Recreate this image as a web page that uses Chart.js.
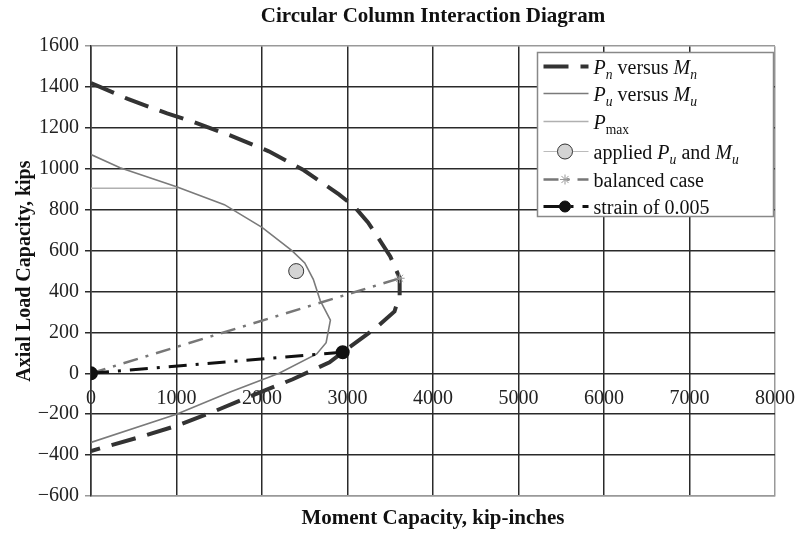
<!DOCTYPE html>
<html>
<head>
<meta charset="utf-8">
<title>Circular Column Interaction Diagram</title>
<script src="https://cdn.jsdelivr.net/npm/chart.js@4.4.1/dist/chart.umd.min.js"></script>
<style>
  html, body { margin: 0; padding: 0; background: #fff; }
</style>
</head>
<body>
<canvas id="chart" width="795" height="537"></canvas>
<script>
// nominal strength curve (kip-in, kips)
const nominalMoment = [0, 430, 890, 1180, 1620, 2080, 2490, 2900, 3080, 3240, 3340, 3500, 3575, 3610, 3610, 3550, 3340, 2944, 2790, 2360, 1890, 1470, 1020, 560, 0];
const nominalLoad = [1420, 1342, 1271, 1232, 1165, 1086, 993, 875, 815, 738, 675, 572, 500, 465, 381, 303, 225, 103, 54, -29, -108, -181, -254, -313, -380];

// factored (design) strength curve
const factoredMoment = [0, 340, 1000, 1560, 2000, 2350, 2500, 2600, 2680, 2800, 2750, 2640, 2200, 1620, 1000, 0];
const factoredLoad = [1070, 1005, 912, 825, 714, 600, 540, 460, 357, 260, 150, 95, 0, -93, -200, -338];

// Pmax cap
const pmaxMoment = [0, 1000];
const pmaxLoad = [905, 905];

// applied load
const appliedMoment = [2400];
const appliedLoad = [500];

// balanced point
const balancedMoment = [0, 3610];
const balancedLoad = [0, 465];

// tension controlled limit
const strainMoment = [0, 2944];
const strainLoad = [0, 103];

const momentTicks = { min: 0, max: 8000, step: 1000 };
const loadTicks = { min: -600, max: 1600, step: 200 };

const serif = '"Liberation Serif", "Times New Roman", serif';

function pts(xs, ys) {
  return xs.map((x, i) => ({ x: x, y: ys[i] }));
}

function minus(v) {
  return v < 0 ? '\u2212' + Math.abs(v) : String(v);
}

// legend labels with italic symbols and subscripts
const legendText = [
  [{ t: 'P', it: 1 }, { t: 'n', it: 1, sub: 1 }, { t: ' versus ' }, { t: 'M', it: 1 }, { t: 'n', it: 1, sub: 1 }],
  [{ t: 'P', it: 1 }, { t: 'u', it: 1, sub: 1 }, { t: ' versus ' }, { t: 'M', it: 1 }, { t: 'u', it: 1, sub: 1 }],
  [{ t: 'P', it: 1 }, { t: 'max', sub: 1 }],
  [{ t: 'applied ' }, { t: 'P', it: 1 }, { t: 'u', it: 1, sub: 1 }, { t: ' and ' }, { t: 'M', it: 1 }, { t: 'u', it: 1, sub: 1 }],
  [{ t: 'balanced case' }],
  [{ t: 'strain of 0.005' }]
];
const legendRows = [14, 41, 69, 99, 127, 154];

const datasets = [
  {
    label: 'Pn versus Mn', data: pts(nominalMoment, nominalLoad),
    borderColor: '#333', borderWidth: 4, borderDash: [25, 12], pointRadius: 0, order: 6
  },
  {
    label: 'Pu versus Mu', data: pts(factoredMoment, factoredLoad),
    borderColor: '#7a7a7a', borderWidth: 1.6, pointRadius: 0, order: 5
  },
  {
    label: 'Pmax', data: pts(pmaxMoment, pmaxLoad),
    borderColor: '#b0b0b0', borderWidth: 1.6, pointRadius: 0, order: 4
  },
  {
    label: 'applied Pu and Mu', data: pts(appliedMoment, appliedLoad),
    borderColor: '#bbb', borderWidth: 1, pointStyle: 'circle', pointRadius: 7.5,
    pointBackgroundColor: '#d4d4d4', pointBorderColor: '#333', pointBorderWidth: 1, order: 1
  },
  {
    label: 'balanced case', data: pts(balancedMoment, balancedLoad),
    borderColor: '#777', borderWidth: 2.5, borderDash: [15, 8, 3, 8],
    pointStyle: 'star', pointRadius: 5, pointBorderColor: '#999', pointBackgroundColor: '#999', pointBorderWidth: 1, order: 3
  },
  {
    label: 'strain of 0.005', data: pts(strainMoment, strainLoad),
    borderColor: '#111', borderWidth: 3, borderDash: [18, 9, 3, 9],
    pointStyle: 'circle', pointRadius: 5.5, pointBackgroundColor: '#111', pointBorderColor: '#111', order: 2
  }
];

function drawRich(ctx, parts, x, y, size) {
  parts.forEach(p => {
    const s = p.sub ? size * 0.68 : size;
    ctx.font = (p.it ? 'italic ' : '') + s + 'px ' + serif;
    ctx.fillText(p.t, x, y + (p.sub ? size * 0.27 : 0));
    x += ctx.measureText(p.t).width;
  });
}

const legendBox = {
  id: 'legendBox',
  afterDraw(chart) {
    const ctx = chart.ctx;
    const area = chart.chartArea;
    const left = Math.round(area.right - 238) + 0.5;
    const top = Math.round(area.top + 6) + 0.5;
    const w = 236, h = 164;
    ctx.save();
    ctx.fillStyle = '#fff';
    ctx.fillRect(left, top, w, h);
    ctx.strokeStyle = '#888';
    ctx.lineWidth = 1.5;
    ctx.strokeRect(left, top, w, h);

    chart.data.datasets.forEach((ds, i) => {
      const y = top + legendRows[i];
      const x0 = left + 6, x1 = left + 51;
      ctx.save();
      ctx.strokeStyle = ds.borderColor;
      ctx.lineWidth = ds.borderWidth;
      ctx.setLineDash(ds.borderDash || []);
      ctx.beginPath();
      ctx.moveTo(x0, y);
      ctx.lineTo(x1, y);
      ctx.stroke();
      ctx.restore();
      if (ds.pointRadius > 0) {
        ctx.fillStyle = ds.pointBackgroundColor;
        ctx.strokeStyle = ds.pointBorderColor;
        ctx.lineWidth = ds.pointBorderWidth || 1;
        Chart.helpers.drawPoint(ctx, {
          pointStyle: ds.pointStyle, radius: ds.pointRadius, rotation: 0, borderWidth: ctx.lineWidth
        }, (x0 + x1) / 2 - 1, y);
      }
      ctx.fillStyle = '#111';
      ctx.textBaseline = 'alphabetic';
      drawRich(ctx, legendText[i], x1 + 5, y + 7, 20);
    });
    ctx.restore();
  }
};

function edgeColor(ctx, lo, hi) {
  const v = ctx.tick ? ctx.tick.value : null;
  return (v === lo || v === hi) ? '#999' : '#2a2a2a';
}

function noSidePadding(s) {
  s.paddingLeft = 0;
  s.paddingRight = 0;
}

new Chart(document.getElementById('chart'), {
  type: 'scatter',
  data: { datasets: datasets.map(d => Object.assign({ showLine: true, fill: false, tension: 0 }, d)) },
  options: {
    responsive: false,
    animation: false,
    layout: { padding: { left: 0, right: 20, top: 0, bottom: 0 } },
    plugins: {
      legend: { display: false },
      tooltip: { enabled: false },
      title: {
        display: true,
        fullSize: false,
        text: 'Circular Column Interaction Diagram',
        color: '#111',
        font: { family: serif, size: 21, weight: 'bold', lineHeight: 1.2 },
        padding: { top: 4, bottom: 17 }
      }
    },
    scales: {
      x: {
        type: 'linear',
        position: 'bottom',
        min: momentTicks.min, max: momentTicks.max,
        ticks: { display: false, stepSize: momentTicks.step },
        grid: { color: c => edgeColor(c, -1, momentTicks.max), lineWidth: 1.5, drawTicks: false },
        border: { color: '#999', width: 1.5 },
        title: {
          display: true, text: 'Moment Capacity, kip-inches', color: '#111',
          font: { family: serif, size: 21, weight: 'bold', lineHeight: 1.2 },
          padding: { top: 0, bottom: 6 }
        },
        afterFit(s) { s.height = 41; noSidePadding(s); }
      },
      xLabels: {
        type: 'linear',
        axis: 'x',
        position: { y: 0 },
        min: momentTicks.min, max: momentTicks.max,
        grid: { display: false, drawTicks: false },
        border: { display: false },
        ticks: {
          stepSize: momentTicks.step, padding: 13, color: '#222', maxRotation: 0,
          font: { family: serif, size: 20 },
          callback: v => minus(v)
        },
        afterFit: noSidePadding
      },
      y: {
        type: 'linear',
        position: 'left',
        min: loadTicks.min, max: loadTicks.max,
        ticks: {
          stepSize: loadTicks.step, padding: 6, color: '#222',
          font: { family: serif, size: 20 },
          callback: v => minus(v)
        },
        grid: { color: c => edgeColor(c, loadTicks.min, loadTicks.max), lineWidth: 1.5, tickLength: 6, drawTicks: true },
        border: { color: '#333', width: 1.5 },
        title: {
          display: true, text: 'Axial Load Capacity, kips', color: '#111',
          font: { family: serif, size: 20, weight: 'bold', lineHeight: 1.2 },
          padding: { top: 13, bottom: 0 }
        },
        afterFit(s) { s.width = 91; }
      }
    }
  },
  plugins: [legendBox]
});
</script>
</body>
</html>
